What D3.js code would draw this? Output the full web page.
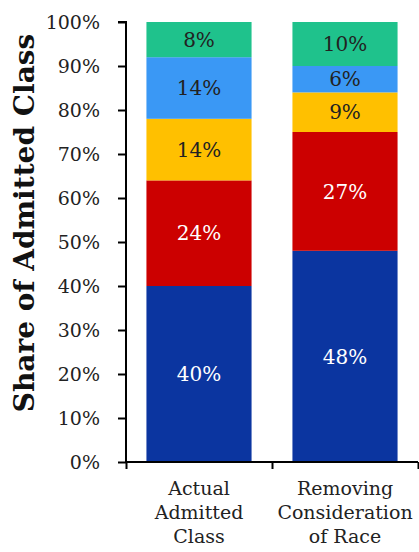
<!DOCTYPE html>
<html>
<head>
<meta charset="utf-8">
<script src="https://cdn.jsdelivr.net/npm/d3@7"></script>
<style>
    body { margin: 0; background: #fff; }
    svg text { font-family: Georgia, "DejaVu Serif", serif; }
</style>
</head>
<body>
<svg id="chart" width="419" height="552"></svg>
<script>
// categories and stacked shares (bottom to top)
let categories = ["Actual Admitted Class", "Removing Consideration of Race"];
let categoryLines = [["Actual", "Admitted", "Class"], ["Removing", "Consideration", "of Race"]];
let seriesNames = ["s1", "s2", "s3", "s4", "s5"];
let actualValues = [40, 24, 14, 14, 8];
let removingValues = [48, 27, 9, 6, 10];
let seriesColors = ["#0b35a0", "#cc0000", "#ffc000", "#3a98f5", "#1fc28c"];
let labelColors = ["#ffffff", "#ffffff", "#222222", "#222222", "#222222"];
let yTicks = [0, 10, 20, 30, 40, 50, 60, 70, 80, 90, 100];

let svg = d3.select("#chart");
let margin = {
    top: 22,
    right: 1,
    bottom: 90,
    left: 126
};
let width = +svg.attr("width") - margin.left - margin.right;
let height = +svg.attr("height") - margin.top - margin.bottom;

// build rows for stacking
let rows = categories.map((c, i) => {
    let vals = i == 0 ? actualValues : removingValues;
    let row = {category: c};
    seriesNames.forEach((s, j) => {
        row[s] = vals[j];
    });
    return row;
});
let stacked = d3.stack().keys(seriesNames)(rows);

let x = d3
    .scaleBand()
    .domain(categories)
    .range([0, width])
    .paddingInner(0.28)
    .paddingOuter(0.14);
let xEdges = d3
    .scaleLinear()
    .domain([0, categories.length])
    .range([0, width]);
let y = d3
    .scaleLinear()
    .domain([0, 100])
    .range([height, 0]);

let g = svg
    .append("g")
    .attr("transform", "translate(" + margin.left + "," + margin.top + ")");

// bars
let layers = g
    .selectAll(".layer")
    .data(stacked)
    .enter()
    .append("g")
    .attr("class", "layer")
    .attr("fill", (d, i) => seriesColors[i]);

layers
    .selectAll("rect")
    .data(d => d)
    .enter()
    .append("rect")
    .attr("x", d => x(d.data.category))
    .attr("y", d => y(d[1]))
    .attr("width", x.bandwidth())
    .attr("height", d => y(d[0]) - y(d[1]));

// value labels
layers
    .selectAll("text")
    .data((d, i) => d.map(p => ({p: p, i: i})))
    .enter()
    .append("text")
    .attr("x", d => x(d.p.data.category) + x.bandwidth() / 2)
    .attr("y", d => y((d.p[0] + d.p[1]) / 2))
    .attr("dy", "0.36em")
    .attr("text-anchor", "middle")
    .attr("font-size", "20px")
    .attr("fill", d => labelColors[d.i])
    .text(d => (d.p[1] - d.p[0]) + "%");

// y axis
let yAxis = g
    .append("g")
    .call(d3.axisLeft(y).tickValues(yTicks).tickSize(8).tickFormat(d => d + "%"));
yAxis.select(".domain").attr("stroke", "#000").attr("stroke-width", 2).attr("d", "M0," + (height + 1) + "V0H-8");
yAxis.selectAll(".tick line").attr("stroke", "#000").attr("stroke-width", 2);
yAxis.selectAll(".tick text")
    .attr("x", -26)
    .attr("font-size", "19px")
    .attr("fill", "#222");

// x axis with ticks on category edges
let xAxis = g
    .append("g")
    .attr("transform", "translate(0," + height + ")")
    .call(d3.axisBottom(xEdges).tickValues(d3.range(categories.length + 1)).tickSize(7).tickFormat(""));
xAxis.select(".domain").attr("stroke", "#000").attr("stroke-width", 2).attr("d", "M0,0H" + width);
xAxis.selectAll(".tick line").attr("stroke", "#000").attr("stroke-width", 2);

// category labels
let catLabels = g
    .selectAll(".cat")
    .data(categoryLines)
    .enter()
    .append("text")
    .attr("class", "cat")
    .attr("text-anchor", "middle")
    .attr("font-size", "19px")
    .attr("fill", "#222")
    .attr("transform", (d, i) => "translate(" + (x(categories[i]) + x.bandwidth() / 2) + "," + (height + 33) + ")");
catLabels
    .selectAll("tspan")
    .data(d => d)
    .enter()
    .append("tspan")
    .attr("x", 0)
    .attr("dy", (d, i) => i == 0 ? 0 : 24)
    .text(d => d);

// y axis title
svg
    .append("text")
    .attr("transform", "translate(34," + 223 + ") rotate(-90)")
    .attr("text-anchor", "middle")
    .attr("font-size", "28px")
    .attr("font-weight", "bold")
    .attr("fill", "#111")
    .text("Share of Admitted Class");
</script>
</body>
</html>
